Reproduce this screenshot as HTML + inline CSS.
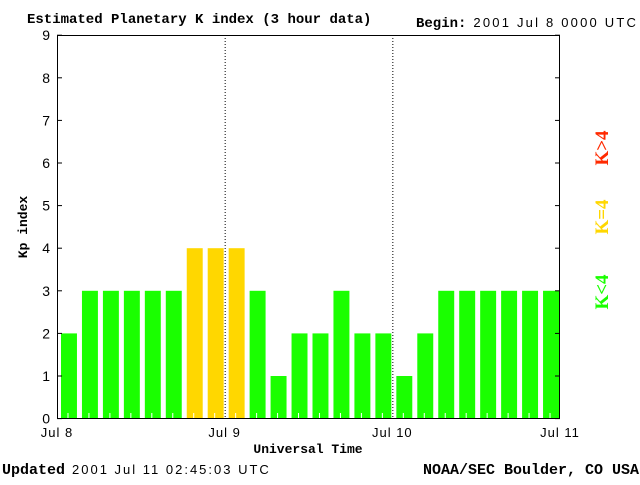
<!DOCTYPE html>
<html><head><meta charset="utf-8"><style>
body{margin:0;background:#fff;width:640px;height:480px;overflow:hidden}
svg text{font-family:"Liberation Sans",sans-serif}
.b{font-family:"Liberation Mono",monospace;font-weight:bold}
.lg{font-family:"Liberation Serif",serif;font-weight:bold}
</style></head><body>
<svg width="640" height="480" xmlns="http://www.w3.org/2000/svg">
<text class="b" x="27" y="23" font-size="14">Estimated Planetary K index (3 hour data)</text>
<text x="416" y="27" font-size="13"><tspan class="b" font-size="14">Begin:</tspan><tspan dx="7" letter-spacing="2.2">2001 Jul 8 0000 UTC</tspan></text>
<g id="bars"></g>
<g id="axes"></g>
<text class="b" x="27" y="227" font-size="13" text-anchor="middle" transform="rotate(-90 27 227)">Kp index</text>
<text class="b" x="308" y="453" font-size="13" text-anchor="middle">Universal Time</text>
<text x="2" y="474" font-size="13"><tspan class="b" font-size="15">Updated</tspan><tspan dx="7" letter-spacing="2">2001 Jul 11 02:45:03 UTC</tspan></text>
<text class="b" x="639" y="474" font-size="15" text-anchor="end">NOAA/SEC Boulder, CO USA</text>
<text class="lg" x="0" y="0" font-size="19" fill="#ff2a00" text-anchor="middle" transform="translate(608 148) rotate(-90)">K&gt;4</text>
<text class="lg" x="0" y="0" font-size="19" fill="#ffd700" text-anchor="middle" transform="translate(608 217) rotate(-90)">K=4</text>
<text class="lg" x="0" y="0" font-size="19" fill="#1aff00" text-anchor="middle" transform="translate(608 292) rotate(-90)">K&lt;4</text>
</svg>
<script>
const kpValues=[2,3,3,3,3,3,4,4,4,3,1,2,2,3,2,2,1,2,3,3,3,3,3,3];
const yTicks=[0,1,2,3,4,5,6,7,8,9];
const dayLabels=["Jul 8","Jul 9","Jul 10","Jul 11"];
const NS="http://www.w3.org/2000/svg";
const L=57,R=560,T=35,B=419,y0=418.6,unit=42.6;
const slot=(R-L)/kpValues.length;
const xs=i=>L+i*slot;
const ys=v=>y0-v*unit;
function mk(tag,attrs,parent){const e=document.createElementNS(NS,tag);for(const k in attrs)e.setAttribute(k,attrs[k]);parent.appendChild(e);return e;}
const bars=document.getElementById('bars'),axes=document.getElementById('axes');
kpValues.forEach((v,i)=>{
 const c=v>4?'#ff2a00':(v==4?'#ffd700':'#1aff00');
 const r=mk('rect',{x:xs(i)+4,y:ys(v),width:slot-5,height:B-ys(v),fill:c},bars);
 
 
 mk('line',{x1:xs(i)+slot/2+0.5,x2:xs(i)+slot/2+0.5,y1:B-6,y2:B,stroke:'#fff','stroke-width':1},bars);
});
dayLabels.forEach((d,i)=>{
 const x=L+i*(R-L)/(dayLabels.length-1);
 if(i>0&&i<dayLabels.length-1){const l=mk('line',{x1:x+0.5,x2:x+0.5,y1:T,y2:B,stroke:'#000','stroke-dasharray':'1,2'},axes);
 
 }
 const t=mk('text',{x:x,y:437,'font-size':13,'text-anchor':'middle','letter-spacing':1},axes);t.textContent=d;
 
 
});
mk('rect',{x:L+0.5,y:T+0.5,width:R-L-1,height:B-T-1,fill:'none',stroke:'#000','stroke-width':1},axes);
yTicks.forEach(v=>{
 const y=ys(v);
 mk('line',{x1:L,x2:L+5,y1:y,y2:y,stroke:'#000'},axes);
 mk('line',{x1:R-5,x2:R,y1:y,y2:y,stroke:'#000'},axes);
 const t=mk('text',{x:50,y:y+5,'font-size':14,'text-anchor':'end'},axes);t.textContent=v;
 
 
});
</script>
</body></html>
